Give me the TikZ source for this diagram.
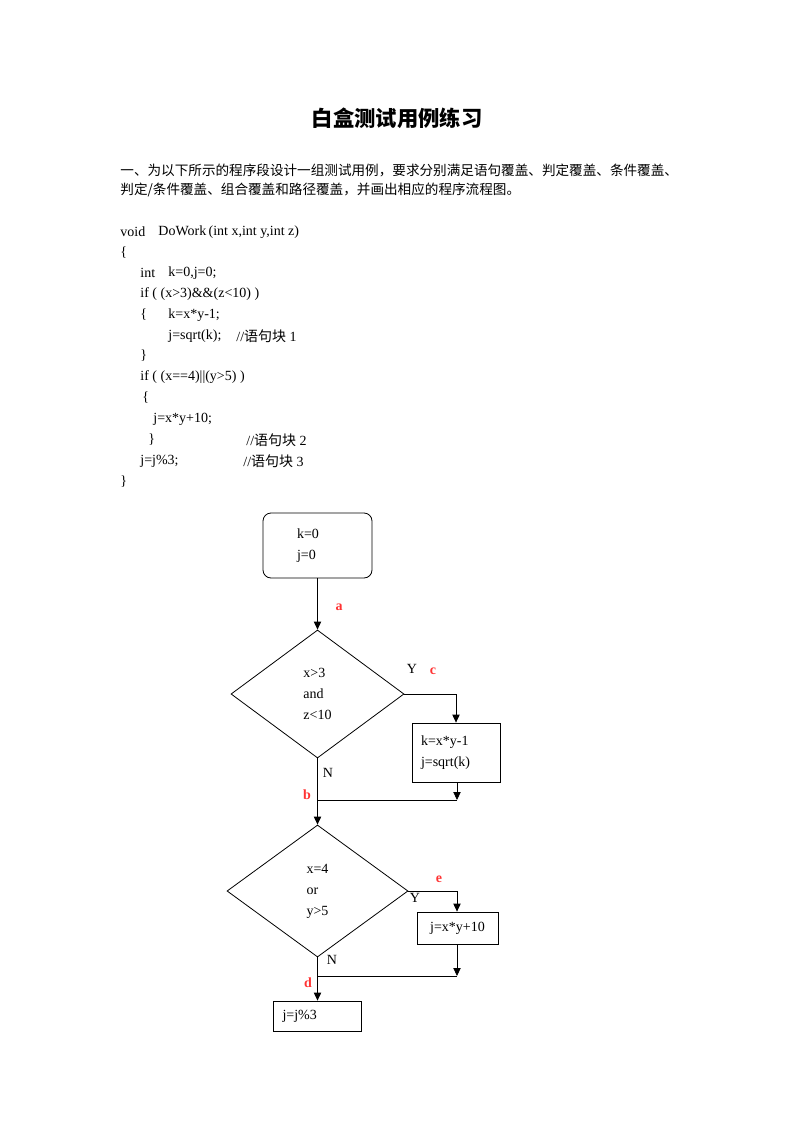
\documentclass[tikz,border=0pt]{standalone}
\usepackage{fontspec}
\setmainfont{Liberation Serif}
\newfontfamily\cjk{Noto Sans CJK SC}
\usetikzlibrary{shapes.geometric,arrows.meta}
\definecolor{lblred}{HTML}{FF3333}

\tikzset{
  code/.style={anchor=west, inner sep=0pt, font=\fontsize{10.5}{12}\selectfont},
  para/.style={anchor=west, inner sep=0pt, font=\fontsize{10.2}{12}\selectfont\cjk},
  blk/.style={draw, align=left, inner ysep=0pt, font=\fontsize{10.5}{15.75}\selectfont},
  cond/.style={draw, diamond, align=left, inner sep=0pt, font=\fontsize{10.5}{15.75}\selectfont},
  lbl/.style={text=lblred, inner sep=0pt, font=\fontsize{10.5}{12}\selectfont\bfseries},
  yn/.style={inner sep=0pt, font=\fontsize{10.5}{12}\selectfont},
  arr/.style={-{Triangle[length=6pt,width=5.5pt]}},
}

\begin{document}
\begin{tikzpicture}[x=0.75pt, y=-0.75pt, line width=0.6pt]
    \useasboundingbox (0,0) rectangle (794,1123);

    % title and task
    \node (title) at (397,118) {\fontsize{16}{18}\selectfont\cjk\bfseries 白盒测试用例练习};
    \node[para] (task1) at (120,170) {一、为以下所示的程序段设计一组测试用例，要求分别满足语句覆盖、判定覆盖、条件覆盖、};
    \node[para] (task2) at (120,190) {判定/条件覆盖、组合覆盖和路径覆盖，并画出相应的程序流程图。};

    % program listing
    \node[code] (c1) at (120,232) {void};
    \node[code] (c1b) at (158,232) {DoWork\,(int x,int y,int z)};
    \node[code] (c2) at (120,253) {\{};
    \node[code] (c3) at (140,273) {int};
    \node[code] (c3b) at (168,273) {k=0,j=0;};
    \node[code] (c4) at (140,294) {if ( (x>3)\&\&(z<10) )};
    \node[code] (c5) at (140,315) {\{};
    \node[code] (c5b) at (168,315) {k=x*y-1;};
    \node[code] (c6) at (168,336) {j=sqrt(k);};
    \node[code] (c6b) at (236,336) {//{\cjk 语句块} 1};
    \node[code] (c7) at (140,356) {\}};
    \node[code] (c8) at (140,377) {if ( (x==4)||(y>5) )};
    \node[code] (c9) at (142,398) {\{};
    \node[code] (c10) at (153,419) {j=x*y+10;};
    \node[code] (c11) at (148,440) {\}};
    \node[code] (c11b) at (246,440) {//{\cjk 语句块} 2};
    \node[code] (c12) at (140,461) {j=j\%3;};
    \node[code] (c12b) at (243,461) {//{\cjk 语句块} 3};
    \node[code] (c13) at (120,482) {\}};

    % flow chart
    \node[blk, rounded corners=6pt, minimum height=48.75pt, inner xsep=25.5pt, text width=30.75pt] (start) at (317.5,545.5) {k=0\\j=0};
    \node[cond, minimum width=129.75pt, minimum height=96pt] (d1) at (317.5,694) {x>3\\and\\z<10};
    \node[blk, minimum height=44.25pt, inner xsep=6.75pt, text width=52.5pt] (b1) at (456,752.5) {k=x*y-1\\j=sqrt(k)};
    \node[cond, minimum width=135.75pt, minimum height=99pt] (d2) at (317.5,891) {x=4\\or\\y>5};
    \node[blk, minimum width=60.75pt, minimum height=24pt, inner xsep=0pt] (b2) at (457.5,928) {j=x*y+10};
    \node[blk, minimum height=22.5pt, inner xsep=6.75pt, text width=52.5pt] (b3) at (317.5,1016) {j=j\%3};

    \coordinate (m1) at (457,800);
    \coordinate (m2) at (457,976);

    \draw[arr] (start) -- (d1);
    \draw[arr] (d1.east) -| (b1.north);
    \draw[arr] (b1.south -| m1) -- (m1);
    \draw (m1) -- (d1.south |- m1);
    \draw[arr] (d1) -- (d2);
    \draw[arr] (d2.east) -| (b2.north -| m2);
    \draw[arr] (b2.south -| m2) -- (m2);
    \draw (m2) -- (d2.south |- m2);
    \draw[arr] (d2) -- (b3);

    % branch labels
    \node[lbl] (la) at (339,607) {a};
    \node[yn] (y1) at (412,669) {Y};
    \node[lbl] (lc) at (433,671) {c};
    \node[yn] (n1) at (328,773) {N};
    \node[lbl] (lb) at (307,795) {b};
    \node[lbl] (le) at (439,879) {e};
    \node[yn] (y2) at (415,898) {Y};
    \node[yn] (n2) at (332,960) {N};
    \node[lbl] (ld) at (308,983) {d};
\end{tikzpicture}
\end{document}
